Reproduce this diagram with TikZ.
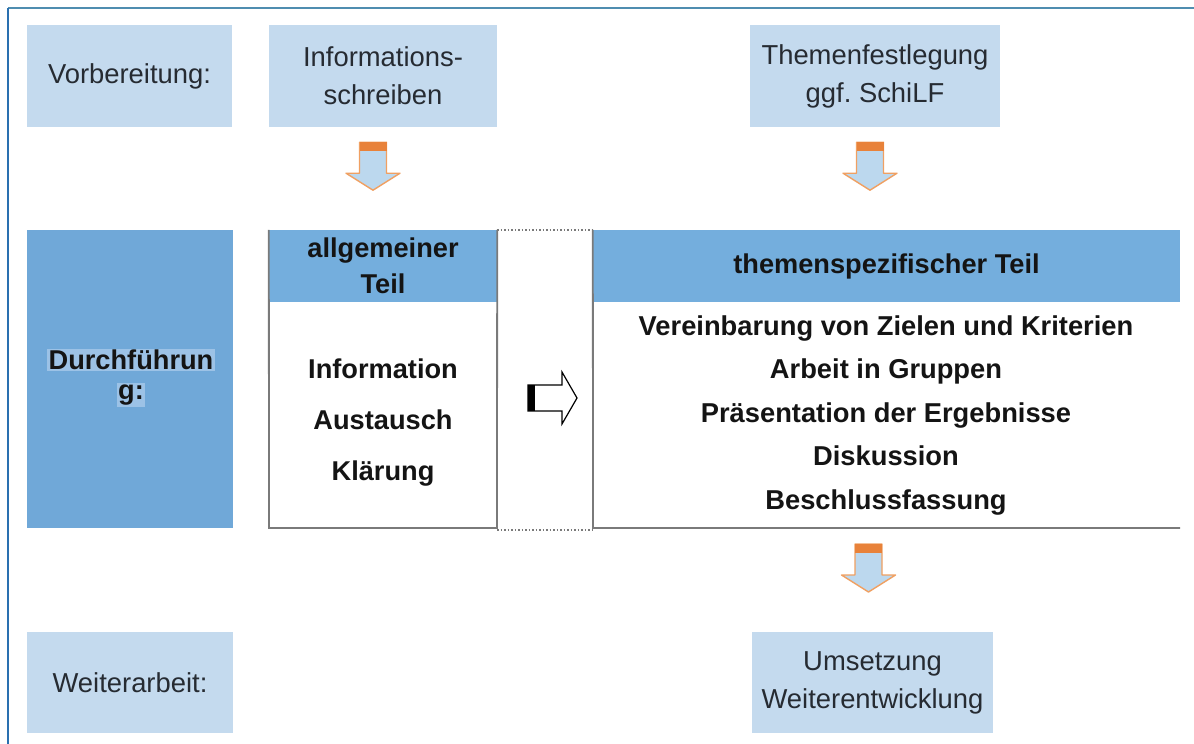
\documentclass[tikz,border=0pt]{standalone}
\usepackage{fontspec}
\setmainfont{Liberation Sans}
\usetikzlibrary{calc}
\definecolor{lightb}{HTML}{C4DAEE}
\definecolor{midb}{HTML}{74AEDD}
\definecolor{durchb}{HTML}{70A8D8}
\definecolor{hlb}{HTML}{9CC2E6}
\definecolor{txt}{HTML}{262B32}
\definecolor{boldtxt}{HTML}{141414}
\definecolor{frametop}{HTML}{4F8DB0}
\definecolor{frameleft}{HTML}{2A70B0}
\definecolor{arrorange}{HTML}{F0A062}
\definecolor{arrband}{HTML}{E8823A}
\definecolor{arrfill}{HTML}{BCD8EE}
\definecolor{rule}{HTML}{7A7A7A}
\newcommand{\regfont}{\fontsize{27.4}{38}\selectfont}
\newcommand{\boldfont}{\fontsize{27.2}{36}\selectfont\bfseries}
\frenchspacing
\begin{document}
\begin{tikzpicture}[x=1pt,y=-1pt,
  lbox/.style={fill=lightb, inner sep=0pt, text=txt, font=\regfont, align=center},
  hbox/.style={fill=midb, inner sep=0pt, text=boldtxt, font=\boldfont, align=center},
  hltext/.style={fill=hlb, inner sep=1.5pt, text=boldtxt, font=\boldfont},
  listtext/.style={inner sep=0pt, text=boldtxt, align=center},
  rulestyle/.style={draw=rule, line width=1.8pt},
  dotstyle/.style={draw=rule, line width=1.5pt, dotted},
  downarr/.pic={
    \filldraw[fill=arrfill, draw=arrorange, line width=1.4pt, line join=round]
      (-13.5,0) -- (13.5,0) -- (13.5,31) -- (27,31) -- (0,48) -- (-27,31) -- (-13.5,31) -- cycle;
    \fill[arrband] (-13.5,0) rectangle (13.5,9);
  }]
\useasboundingbox (0,0) rectangle (1194,744);
\fill[white] (0,0) rectangle (1194,744);
% frame
\draw[frametop, line width=2.5pt] (8,8) -- (1194,8);
\draw[frameleft, line width=2pt] (8,8) -- (8,744);

% row 1
\node[lbox, minimum width=205pt, minimum height=102pt] (vorb) at (129.5,76) {Vorbereitung:};
\node[lbox, minimum width=228pt, minimum height=102pt] (info) at (383,76) {Informations-\\schreiben};
\node[lbox, minimum width=250pt, minimum height=102pt] (thema) at (875,76) {Themenfestlegung\\ggf.\ SchiLF};

% row 2
\node[fill=durchb, inner sep=0pt, minimum width=206pt, minimum height=298pt] (durch) at (130,379) {};
\node[hltext] (d1) at (131,360) {Durchführun};
\node[hltext] (d2) at (131,395) {g:};

\node[hbox, minimum width=228pt, minimum height=72pt] (allg) at (383,266) {allgemeiner\\Teil};
\coordinate (allgbl) at (269,528);
\coordinate (allgbr) at (497,528);
\draw[rulestyle] (allg.north west) -- (allgbl) -- (allgbr) -- (allg.north east);
\node[listtext, font=\fontsize{27.2}{51}\selectfont\bfseries] (allglist) at (383,423) {Information\\Austausch\\Klärung};

\node[hbox, minimum width=587pt, minimum height=72pt] (spez) at (886.5,266) {themenspezifischer Teil};
\coordinate (spezbl) at (593,528);
\coordinate (spezbr) at (1180,528);
\draw[rulestyle] (spez.north west) -- (spezbl) -- (spezbr);
\node[listtext, font=\fontsize{27.3}{43.5}\selectfont\bfseries] (spezlist) at (886,415)
  {Vereinbarung von Zielen und Kriterien\\Arbeit in Gruppen\\Präsentation der Ergebnisse\\Diskussion\\Beschlussfassung};

% dotted connector box
\draw[dotstyle] (allg.north east) -- (spez.north west);
\draw[dotstyle] ($(allgbr)+(0,2)$) -- ($(spezbl)+(0,2)$);

% middle right arrow
\filldraw[fill=white, draw=black, line width=1.2pt, line join=miter]
  (528,385) -- (562,385) -- (562,372) -- (577,398) -- (562,424) -- (562,411) -- (528,411) -- cycle;
\fill[black] (528,385) rectangle (535,411);

% row 3
\node[lbox, minimum width=206pt, minimum height=101pt] (weiter) at (130,682.5) {Weiterarbeit:};
\node[lbox, minimum width=241pt, minimum height=101pt] (umsetz) at (872.5,682.5) {Umsetzung\\Weiterentwicklung};

% down arrows
\pic at ($(info.south)+(-10,15)$) {downarr};
\pic at ($(thema.south)+(-5,15)$) {downarr};
\pic at ($(spezbl)!0.5!(spezbr)+(-18,16)$) {downarr};
\end{tikzpicture}
\end{document}
